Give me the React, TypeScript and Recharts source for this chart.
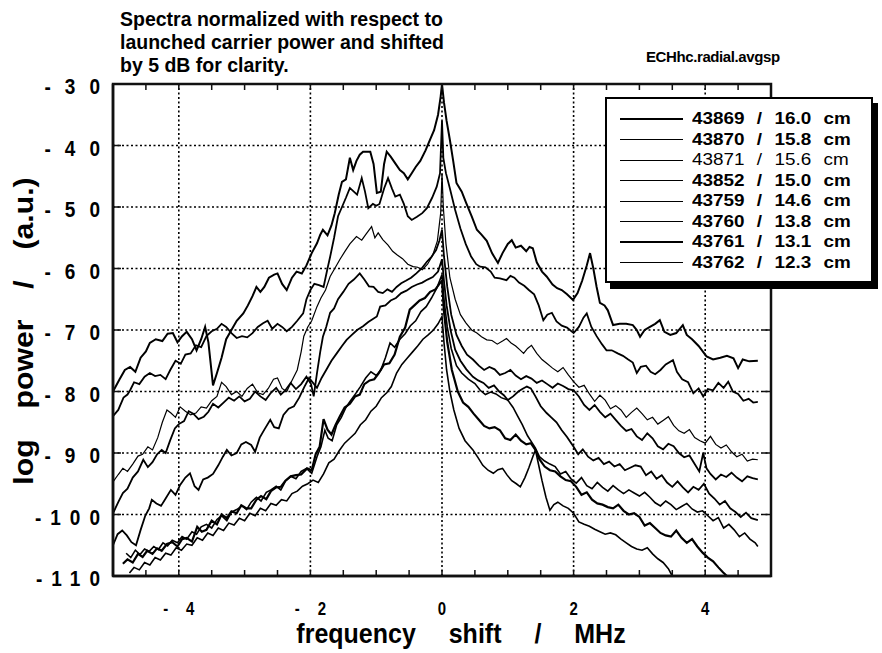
import { LineChart, Line, XAxis, YAxis, ReferenceLine } from "recharts";

const FONT = '"Liberation Sans", Arial, Helvetica, sans-serif';

type Pt = [number, number];

const shots = ["43869", "43870", "43871", "43852", "43759", "43760", "43761", "43762"];
const radii = ["16.0", "15.8", "15.6", "15.0", "14.6", "13.8", "13.1", "12.3"];

const xTicks = [-5, -4.5, -4, -3.5, -3, -2.5, -2, -1.5, -1, -0.5, 0, 0.5, 1, 1.5, 2, 2.5, 3, 3.5, 4, 4.5, 5];
const xLabels = [-4, -2, 0, 2, 4];
const yTicks = [-30, -40, -50, -60, -70, -80, -90, -100, -110];
const gridX = [-4, -2, 0, 2, 4];
const gridY = [-40, -50, -60, -70, -80, -90, -100];
const xDomain: [number, number] = [-5, 5];
const yDomain: [number, number] = [-110, -30];

const titleLines = [
  "Spectra normalized with respect to",
  "launched carrier power and shifted",
  "by 5 dB for clarity.",
];

// frequency shift (MHz), log power (dB)
const s43869: Pt[] = [
  [-5, -80], [-4.9, -78], [-4.82, -76.5], [-4.74, -76], [-4.66, -76.8], [-4.58, -74.5], [-4.5, -73.5],
  [-4.44, -72.1], [-4.35, -71.5], [-4.25, -71.8], [-4.17, -70.6], [-4.09, -70.5], [-4.02, -72], [-3.95, -71],
  [-3.88, -70.3], [-3.8, -71.5], [-3.73, -73.3], [-3.66, -71.5], [-3.6, -69.5], [-3.55, -72], [-3.48, -79],
  [-3.42, -77], [-3.35, -74.5], [-3.28, -71.5], [-3.2, -70], [-3.12, -68.5], [-3.02, -67.3], [-2.95, -66],
  [-2.88, -64.5], [-2.82, -63], [-2.76, -63.8], [-2.7, -63], [-2.63, -61.5], [-2.55, -61], [-2.5, -60.8],
  [-2.43, -62.5], [-2.36, -63.5], [-2.28, -61.5], [-2.21, -60.5], [-2.13, -60.8], [-2.06, -59.5], [-1.98, -57.5],
  [-1.9, -55.9], [-1.85, -54.5], [-1.81, -53.7], [-1.74, -54.6], [-1.68, -53], [-1.63, -51], [-1.57, -48],
  [-1.52, -45.9], [-1.46, -45.5], [-1.4, -42], [-1.35, -44], [-1.3, -42.5], [-1.25, -41.5], [-1.2, -41],
  [-1.09, -41], [-1.04, -43], [-0.99, -47.7], [-0.93, -47.5], [-0.88, -43], [-0.84, -41], [-0.78, -41.8],
  [-0.71, -42.9], [-0.64, -44], [-0.58, -44.5], [-0.52, -45.5], [-0.46, -44.5], [-0.4, -43.5], [-0.33, -42.5],
  [-0.25, -40.8], [-0.18, -39], [-0.12, -37.5], [-0.06, -35], [-0.02, -32], [0, -30], [0.03, -33], [0.07, -36],
  [0.12, -39.1], [0.17, -42.5], [0.22, -46.1], [0.3, -47.5], [0.37, -49.4], [0.45, -51.5], [0.53, -53.7],
  [0.6, -54.5], [0.68, -55.5], [0.76, -57.5], [0.85, -59.1], [0.92, -57.5], [1, -56], [1.06, -55.4],
  [1.12, -56.6], [1.2, -56.3], [1.28, -57.2], [1.33, -56.5], [1.38, -56.7], [1.44, -59], [1.52, -60.5],
  [1.59, -61.3], [1.68, -62.6], [1.75, -63.2], [1.82, -63.5], [1.9, -64.2], [1.99, -65.1], [2.06, -64],
  [2.13, -62], [2.2, -59.5], [2.25, -57.5], [2.3, -60], [2.35, -63], [2.4, -65.6], [2.47, -66], [2.52, -66.8],
  [2.6, -69.2], [2.7, -69], [2.8, -69], [2.9, -69.2], [2.96, -70], [3.01, -71.1], [3.08, -70], [3.16, -69.5],
  [3.24, -69], [3.31, -68.4], [3.38, -70.3], [3.47, -70.8], [3.56, -70.5], [3.66, -69.2], [3.72, -70.8],
  [3.8, -71.5], [3.9, -72.6], [4.02, -74.3], [4.12, -74.8], [4.23, -74.5], [4.33, -74.2], [4.43, -74.6],
  [4.5, -76.2], [4.57, -74.8], [4.67, -75.1], [4.8, -75],
];

const s43870: Pt[] = [
  [-5, -84], [-4.92, -83], [-4.84, -81], [-4.78, -80.5], [-4.74, -79.8], [-4.68, -78.5], [-4.6, -78.8],
  [-4.52, -77.6], [-4.44, -77], [-4.36, -77.5], [-4.28, -77.3], [-4.2, -78], [-4.13, -76.5], [-4.05, -75],
  [-3.97, -75.5], [-3.9, -74], [-3.82, -73.8], [-3.74, -72.5], [-3.66, -72.8], [-3.58, -71], [-3.5, -70.2],
  [-3.42, -69.8], [-3.35, -69], [-3.28, -69.5], [-3.2, -70.5], [-3.12, -71.3], [-3.04, -71], [-2.96, -71.2],
  [-2.88, -70.5], [-2.8, -69.5], [-2.72, -68.9], [-2.65, -68.5], [-2.58, -69.8], [-2.5, -69], [-2.43, -69.5],
  [-2.36, -70.2], [-2.28, -69.5], [-2.2, -68.5], [-2.11, -67.3], [-2.06, -65], [-2, -63.5], [-1.94, -62.5],
  [-1.87, -62.7], [-1.8, -63], [-1.74, -60], [-1.7, -58.1], [-1.64, -55], [-1.58, -51.5], [-1.52, -50],
  [-1.46, -48.5], [-1.4, -46.9], [-1.34, -47.5], [-1.29, -48], [-1.22, -45.3], [-1.17, -47.5], [-1.12, -50.2],
  [-1.05, -49.5], [-1, -49.8], [-0.95, -49.5], [-0.88, -47], [-0.82, -45.3], [-0.76, -47], [-0.71, -48.3],
  [-0.64, -48], [-0.58, -49.5], [-0.52, -51.5], [-0.46, -52.1], [-0.38, -51.6], [-0.3, -51], [-0.23, -50.2],
  [-0.15, -48.5], [-0.08, -46.7], [-0.03, -44.5], [0, -36], [0.02, -42], [0.06, -44.5], [0.12, -47],
  [0.2, -50.5], [0.28, -53.5], [0.36, -56], [0.44, -58], [0.52, -59.3], [0.58, -59.7], [0.66, -59.8],
  [0.74, -60.5], [0.8, -61.5], [0.88, -61.6], [0.98, -61.9], [1.04, -61.2], [1.1, -61.5], [1.17, -62.3],
  [1.25, -62.8], [1.32, -63.5], [1.4, -64.2], [1.47, -66], [1.54, -68.4], [1.6, -67.5], [1.67, -67.2],
  [1.74, -68.6], [1.82, -69.3], [1.9, -69.6], [2, -70.5], [2.08, -69.5], [2.15, -68], [2.2, -67.3],
  [2.27, -69.5], [2.35, -71], [2.43, -72.3], [2.5, -73.3], [2.58, -73.3], [2.67, -73.8], [2.75, -74.2],
  [2.83, -74.8], [2.9, -75.3], [2.96, -77], [3.02, -76], [3.1, -75.8], [3.17, -76.8], [3.24, -77.2],
  [3.32, -76.5], [3.4, -75.6], [3.51, -74.9], [3.57, -76.8], [3.65, -78], [3.74, -78.5], [3.82, -80.3],
  [3.9, -79.5], [3.97, -80.8], [4.04, -79.6], [4.12, -79.8], [4.2, -78.6], [4.28, -79.4], [4.35, -78.4],
  [4.42, -80], [4.5, -80.4], [4.58, -81.5], [4.66, -81.2], [4.73, -81.8], [4.8, -81.7],
];

const s43871: Pt[] = [
  [-5, -94.7], [-4.92, -93.5], [-4.85, -92.5], [-4.78, -93], [-4.7, -91.8], [-4.62, -90.5], [-4.55, -90.2],
  [-4.47, -89], [-4.4, -89.5], [-4.32, -87.5], [-4.25, -85], [-4.18, -83], [-4.12, -83.5], [-4.05, -84.2],
  [-3.98, -82.5], [-3.9, -83.2], [-3.82, -83.8], [-3.74, -83.5], [-3.66, -82.5], [-3.58, -82.7], [-3.5, -81.5],
  [-3.42, -80.8], [-3.35, -78.5], [-3.28, -79.2], [-3.2, -80.5], [-3.12, -80], [-3.04, -80.8], [-2.96, -79.5],
  [-2.88, -78.8], [-2.8, -80.2], [-2.72, -80.5], [-2.64, -79.5], [-2.56, -78], [-2.5, -77.8], [-2.43, -79.5],
  [-2.36, -80], [-2.28, -78.2], [-2.2, -76.5], [-2.14, -73.5], [-2.1, -71], [-2.04, -69.5], [-1.98, -68.5],
  [-1.9, -66.2], [-1.84, -64.8], [-1.77, -63.5], [-1.7, -61.3], [-1.63, -60], [-1.55, -58.5], [-1.48, -57.3],
  [-1.4, -56], [-1.3, -54.8], [-1.22, -55.4], [-1.16, -54.5], [-1.07, -53.2], [-1.02, -55], [-0.97, -54.2],
  [-0.9, -55.3], [-0.82, -56.2], [-0.75, -57.2], [-0.68, -57.8], [-0.6, -58.4], [-0.52, -59.3], [-0.44, -59.7],
  [-0.37, -59.8], [-0.3, -60.2], [-0.22, -59.3], [-0.14, -57.8], [-0.07, -55.5], [-0.02, -51], [0, -44.5],
  [0.02, -50], [0.06, -56], [0.12, -61.5], [0.2, -65], [0.28, -67.5], [0.36, -68.8], [0.45, -70], [0.53, -70.5],
  [0.6, -71.1], [0.68, -71.6], [0.76, -71.7], [0.84, -72.3], [0.92, -71.8], [0.98, -71.4], [1.05, -72.1],
  [1.12, -72.6], [1.18, -73.2], [1.24, -73.8], [1.3, -73], [1.36, -72.5], [1.44, -73.8], [1.52, -74.8],
  [1.6, -75.5], [1.68, -76.2], [1.76, -76.8], [1.84, -76.1], [1.92, -77.3], [2, -78.4], [2.08, -79.3],
  [2.16, -79], [2.24, -80.4], [2.32, -81.6], [2.4, -80.6], [2.48, -81.4], [2.56, -82.8], [2.64, -82.3],
  [2.72, -83], [2.8, -84.2], [2.88, -83.4], [2.96, -82.7], [3.04, -83.6], [3.12, -84.6], [3.2, -84.2],
  [3.28, -85.3], [3.36, -84.7], [3.44, -84.1], [3.52, -85.5], [3.6, -86.4], [3.68, -86.8], [3.76, -86.2],
  [3.84, -87.5], [3.92, -88], [4, -88.4], [4.08, -87.3], [4.16, -88.6], [4.24, -89.2], [4.32, -88.7],
  [4.4, -89.8], [4.48, -90.6], [4.56, -90.2], [4.64, -91.3], [4.72, -91], [4.8, -91.1],
];

const s43852: Pt[] = [
  [-5, -99.8], [-4.92, -98], [-4.85, -96.5], [-4.78, -95.8], [-4.7, -94], [-4.62, -93], [-4.54, -91.1],
  [-4.47, -92.3], [-4.4, -91.5], [-4.33, -90.2], [-4.26, -89.5], [-4.2, -90], [-4.13, -87.9], [-4.06, -86],
  [-4, -85.3], [-3.92, -84.8], [-3.85, -83.2], [-3.78, -83.6], [-3.7, -84.5], [-3.62, -84.1], [-3.55, -83.3],
  [-3.48, -82], [-3.4, -82.6], [-3.32, -81.8], [-3.24, -81], [-3.16, -81.5], [-3.08, -80.8], [-3, -81.6],
  [-2.92, -81.2], [-2.84, -80], [-2.76, -80.8], [-2.68, -81.4], [-2.6, -80.2], [-2.52, -79.4], [-2.45, -80.5],
  [-2.38, -79.8], [-2.3, -78.6], [-2.22, -79.6], [-2.14, -78.8], [-2.06, -77.6], [-1.99, -78.8], [-1.95, -80.8],
  [-1.9, -77], [-1.85, -73.5], [-1.81, -71.1], [-1.76, -69.5], [-1.7, -67.2], [-1.64, -66.5], [-1.58, -65],
  [-1.5, -63.8], [-1.42, -62.5], [-1.34, -61.8], [-1.25, -60.8], [-1.18, -61.8], [-1.11, -62.9], [-1.04, -63],
  [-0.97, -63.8], [-0.9, -64], [-0.83, -63.4], [-0.76, -63.8], [-0.69, -63], [-0.62, -62.4], [-0.55, -62],
  [-0.47, -61.5], [-0.39, -60.8], [-0.31, -60], [-0.23, -58.9], [-0.16, -58.1], [-0.09, -57], [-0.04, -55.5],
  [0, -53.7], [0.03, -58], [0.08, -63], [0.14, -67.5], [0.22, -70.8], [0.3, -72.6], [0.38, -74], [0.47, -74.8],
  [0.56, -75.8], [0.64, -76.5], [0.72, -76], [0.8, -76.4], [0.88, -77.3], [0.96, -77], [1.04, -76.5],
  [1.12, -77.4], [1.2, -78], [1.28, -77.5], [1.36, -77.9], [1.44, -78.6], [1.52, -78.2], [1.6, -78.8],
  [1.68, -79.4], [1.76, -78.7], [1.84, -79.1], [1.92, -79.6], [2, -79.8], [2.08, -80.8], [2.16, -82.2],
  [2.24, -83], [2.32, -82.2], [2.4, -83.3], [2.48, -84.2], [2.56, -83.6], [2.64, -84.6], [2.72, -85.6],
  [2.8, -86.4], [2.88, -86.1], [2.96, -87.3], [3.04, -87.9], [3.12, -86.8], [3.2, -87.6], [3.28, -88.9],
  [3.36, -89.4], [3.44, -88.5], [3.52, -88.9], [3.6, -90], [3.68, -90.7], [3.76, -90.4], [3.84, -91.8],
  [3.91, -93], [3.97, -90], [4.02, -92.5], [4.08, -93.4], [4.16, -94.3], [4.24, -93.5], [4.32, -93.9],
  [4.4, -93.2], [4.48, -94], [4.56, -94.6], [4.64, -93.8], [4.72, -94.1], [4.8, -94.3],
];

const s43759: Pt[] = [
  [-5, -105], [-4.93, -103.2], [-4.86, -102.6], [-4.79, -103.4], [-4.72, -104.5], [-4.65, -105], [-4.58, -102.5],
  [-4.51, -100.2], [-4.45, -99], [-4.41, -97.6], [-4.34, -98.2], [-4.27, -98.6], [-4.2, -97.4], [-4.12, -96],
  [-4.05, -96.8], [-3.98, -95.2], [-3.9, -94], [-3.83, -93.3], [-3.76, -95.4], [-3.7, -96], [-3.63, -94.3],
  [-3.56, -94], [-3.48, -93.4], [-3.4, -92], [-3.33, -90.6], [-3.27, -89.5], [-3.2, -90.4], [-3.12, -90],
  [-3.05, -88.6], [-2.98, -88.2], [-2.9, -88.7], [-2.84, -89.8], [-2.77, -87.5], [-2.7, -86.2], [-2.61, -84.6],
  [-2.55, -85.8], [-2.48, -86], [-2.41, -83.8], [-2.33, -82.8], [-2.25, -82.4], [-2.17, -81], [-2.09, -79.2],
  [-2.02, -77.8], [-1.96, -78.6], [-1.9, -79.4], [-1.83, -77.8], [-1.76, -76.5], [-1.68, -75], [-1.6, -73.8],
  [-1.52, -72.6], [-1.45, -71.6], [-1.37, -70.8], [-1.29, -70], [-1.2, -69.4], [-1.12, -68.7], [-1.05, -68.2],
  [-0.99, -67.8], [-0.94, -66.2], [-0.86, -66], [-0.78, -65.2], [-0.7, -64.8], [-0.62, -64], [-0.54, -63.6],
  [-0.46, -63], [-0.38, -62.6], [-0.3, -62.3], [-0.22, -61.8], [-0.14, -61.4], [-0.06, -60.5], [0, -58.5],
  [0.03, -62], [0.07, -66], [0.13, -70], [0.2, -73.2], [0.28, -75], [0.37, -76.4], [0.47, -77.6], [0.55, -78.2],
  [0.63, -78.6], [0.71, -79.4], [0.79, -79], [0.87, -80], [0.94, -80.6], [1, -81.4], [1.08, -80.8], [1.16, -80],
  [1.22, -79.6], [1.29, -79.2], [1.35, -79.5], [1.42, -80.8], [1.5, -82.4], [1.59, -83.5], [1.66, -84.2],
  [1.74, -85], [1.82, -86.3], [1.9, -87.4], [2, -89], [2.07, -90.2], [2.14, -89.4], [2.22, -90.6], [2.3, -91.2],
  [2.38, -90.8], [2.46, -91.8], [2.54, -91.4], [2.62, -92.2], [2.7, -91.8], [2.78, -92.8], [2.86, -92.4],
  [2.94, -92], [3.02, -92.2], [3.1, -93.6], [3.18, -93], [3.26, -94.2], [3.34, -93.6], [3.42, -94.8],
  [3.5, -95.5], [3.58, -94.6], [3.66, -95.6], [3.74, -96.4], [3.82, -95.5], [3.9, -96], [3.98, -95],
  [4.06, -96.6], [4.14, -97.4], [4.22, -98.4], [4.3, -97.8], [4.38, -99], [4.46, -99.6], [4.54, -100.4],
  [4.62, -99.7], [4.7, -100.6], [4.8, -100.9],
];

const s43760: Pt[] = [
  [-4.8, -106.3], [-4.73, -107], [-4.66, -105.8], [-4.59, -106.5], [-4.52, -105.6], [-4.45, -106], [-4.38, -105.2],
  [-4.31, -105.7], [-4.24, -104.6], [-4.17, -105.1], [-4.1, -104.2], [-4.02, -104.6], [-3.95, -103.6], [-3.88, -104],
  [-3.8, -102.8], [-3.73, -103.2], [-3.66, -102], [-3.58, -101.6], [-3.5, -102.2], [-3.42, -100.8], [-3.35, -100.2],
  [-3.27, -101], [-3.2, -99.6], [-3.12, -99.2], [-3.04, -98.6], [-2.97, -99.2], [-2.9, -98], [-2.82, -97.2],
  [-2.75, -97.8], [-2.67, -96.4], [-2.6, -96], [-2.52, -95.4], [-2.45, -96], [-2.38, -94.6], [-2.3, -93.8],
  [-2.22, -94.2], [-2.14, -93], [-2.06, -92.5], [-1.98, -93.3], [-1.9, -90.6], [-1.84, -89], [-1.78, -86.3],
  [-1.73, -87.6], [-1.67, -88], [-1.6, -85.4], [-1.53, -84.2], [-1.46, -82.6], [-1.39, -81.5], [-1.31, -80.3],
  [-1.24, -79.2], [-1.16, -77.8], [-1.08, -76.8], [-1, -77.4], [-0.93, -76.5], [-0.86, -74.5], [-0.79, -72.1],
  [-0.72, -72.8], [-0.64, -71.5], [-0.56, -70.6], [-0.48, -69.3], [-0.4, -68.5], [-0.32, -67], [-0.24, -66.2],
  [-0.16, -64.8], [-0.08, -63.2], [0, -61], [0.03, -65], [0.08, -69.5], [0.14, -73], [0.22, -75.8], [0.3, -77],
  [0.4, -78], [0.5, -78.7], [0.58, -79.8], [0.66, -80.5], [0.74, -80.1], [0.82, -80.4], [0.9, -81], [1, -81.4],
  [1.08, -82.6], [1.15, -84], [1.22, -85.4], [1.3, -87.2], [1.36, -88.2], [1.42, -89.2], [1.48, -90.6],
  [1.56, -91.3], [1.64, -91.8], [1.72, -92.2], [1.8, -93.4], [1.88, -93], [1.96, -94.2], [2.04, -94.9],
  [2.12, -94], [2.2, -95.3], [2.28, -95.8], [2.36, -94.8], [2.44, -95.6], [2.52, -96.2], [2.6, -95.3],
  [2.68, -96], [2.76, -96.6], [2.84, -96], [2.92, -96.5], [3, -97], [3.08, -96.4], [3.16, -97.2], [3.24, -98.1],
  [3.32, -98.6], [3.4, -97.8], [3.48, -98.4], [3.56, -99.2], [3.64, -98.7], [3.72, -98.2], [3.8, -99.1],
  [3.88, -99.6], [3.96, -99.4], [4.04, -100.2], [4.12, -101], [4.2, -100.5], [4.28, -102.2], [4.36, -101.6],
  [4.44, -102.5], [4.52, -103.6], [4.6, -103], [4.68, -104], [4.76, -104.6], [4.8, -105.2],
];

const s43761: Pt[] = [
  [-4.85, -108], [-4.78, -107.3], [-4.7, -107.8], [-4.62, -106.4], [-4.55, -106.9], [-4.48, -105.9], [-4.4, -106.4],
  [-4.33, -105.5], [-4.26, -105.9], [-4.18, -104.8], [-4.1, -104.5], [-4.02, -105.2], [-3.95, -104], [-3.88, -103.8],
  [-3.8, -104.4], [-3.72, -102], [-3.65, -102.8], [-3.58, -102.5], [-3.5, -101], [-3.42, -101.6], [-3.35, -100],
  [-3.27, -100.6], [-3.2, -99.5], [-3.12, -99.8], [-3.05, -98.5], [-2.97, -99], [-2.9, -99], [-2.82, -97.6],
  [-2.75, -97], [-2.67, -97.5], [-2.6, -96.2], [-2.52, -95.6], [-2.45, -95.5], [-2.38, -94.5], [-2.3, -93.8],
  [-2.22, -93.6], [-2.14, -93.5], [-2.05, -92.5], [-1.98, -92.8], [-1.92, -90.2], [-1.86, -89], [-1.8, -84.5],
  [-1.74, -86.2], [-1.68, -87], [-1.62, -85.5], [-1.55, -84], [-1.48, -82.6], [-1.4, -82], [-1.32, -80.8],
  [-1.25, -80.5], [-1.18, -78.8], [-1.1, -78.2], [-1.03, -78], [-0.96, -77], [-0.88, -75.6], [-0.8, -75.4],
  [-0.72, -74], [-0.64, -71.1], [-0.56, -69.6], [-0.49, -66.7], [-0.42, -66], [-0.34, -65.2], [-0.26, -64.8],
  [-0.18, -63.8], [-0.1, -63.4], [-0.04, -62.5], [0, -62], [0.03, -67], [0.08, -72], [0.15, -76.5], [0.24, -80],
  [0.32, -81.8], [0.4, -82.5], [0.48, -83.6], [0.56, -84.6], [0.64, -85.6], [0.72, -86], [0.8, -85.8],
  [0.88, -86.3], [0.96, -87.6], [1.04, -87.9], [1.12, -87], [1.2, -88], [1.28, -88.6], [1.35, -88.4],
  [1.42, -89.5], [1.48, -91], [1.56, -92.2], [1.64, -92.8], [1.72, -93], [1.8, -93.8], [1.88, -94.4],
  [1.96, -94.6], [2.04, -95.5], [2.12, -96.8], [2.2, -96.4], [2.28, -97.6], [2.36, -98.2], [2.44, -98.4],
  [2.52, -98.8], [2.6, -99], [2.68, -98.4], [2.76, -99.4], [2.84, -100], [2.92, -99.8], [3, -100.4],
  [3.08, -101.8], [3.16, -101.4], [3.24, -102.2], [3.32, -103], [3.4, -103.4], [3.48, -103.6], [3.56, -102.6],
  [3.64, -103.8], [3.72, -104.6], [3.8, -104], [3.88, -105.2], [3.96, -106.2], [4.04, -107], [4.12, -107.6],
  [4.2, -108.6], [4.27, -109.4], [4.33, -110],
];

const s43762: Pt[] = [
  [-4.75, -109.5], [-4.68, -108.6], [-4.6, -109], [-4.52, -107.8], [-4.44, -108.2], [-4.36, -107], [-4.28, -107.4],
  [-4.2, -106.3], [-4.12, -106.6], [-4.04, -105.4], [-3.96, -105.8], [-3.88, -104.8], [-3.8, -105], [-3.72, -103.8],
  [-3.64, -104.2], [-3.56, -103], [-3.48, -103.4], [-3.4, -102.2], [-3.32, -102.6], [-3.24, -101.4], [-3.16, -101.7],
  [-3.08, -100.6], [-3, -101], [-2.92, -99.8], [-2.84, -100.2], [-2.76, -99], [-2.68, -99.4], [-2.6, -98.2],
  [-2.52, -98.5], [-2.44, -97.6], [-2.36, -97.8], [-2.28, -96.6], [-2.2, -96.2], [-2.12, -95.4], [-2.04, -95],
  [-1.96, -94.4], [-1.88, -94.8], [-1.8, -93.4], [-1.72, -91.6], [-1.64, -91], [-1.56, -89.6], [-1.48, -88.4],
  [-1.4, -87.6], [-1.32, -86.8], [-1.24, -85.4], [-1.16, -84.6], [-1.08, -83.2], [-1, -82.4], [-0.92, -81],
  [-0.84, -80.2], [-0.77, -79.2], [-0.69, -77], [-0.61, -75.6], [-0.53, -74.6], [-0.45, -73.6], [-0.37, -72.6],
  [-0.29, -71.5], [-0.21, -70.8], [-0.13, -70], [-0.06, -69], [0, -67.8], [0.03, -72], [0.07, -76.5],
  [0.12, -80], [0.18, -83], [0.26, -86], [0.35, -88], [0.47, -89.5], [0.55, -90.8], [0.62, -92], [0.7, -92.8],
  [0.78, -93.3], [0.85, -92.7], [0.92, -92.5], [0.99, -93.6], [1.06, -94.5], [1.13, -95], [1.19, -95.5],
  [1.26, -94], [1.32, -92.4], [1.38, -90.6], [1.42, -89.5], [1.46, -91.5], [1.52, -94.5], [1.58, -97.2],
  [1.64, -99.3], [1.7, -98.4], [1.76, -98], [1.84, -98.6], [1.92, -99], [2, -99.8], [2.08, -101.2],
  [2.16, -101.6], [2.24, -101.9], [2.32, -102.4], [2.4, -102.8], [2.48, -103.2], [2.56, -103], [2.64, -103.3],
  [2.72, -104], [2.8, -104.6], [2.88, -105.2], [2.96, -105.6], [3.04, -105.8], [3.12, -105.4], [3.2, -106.4],
  [3.28, -107.2], [3.36, -107.8], [3.44, -108.8], [3.5, -110],
];

const seriesPoints = [s43869, s43870, s43871, s43852, s43759, s43760, s43761, s43762];
const lineWidths = [2, 1.8, 1.2, 1.8, 1.8, 1.6, 2.2, 1.6];

const series = shots.map((shot, i) => ({
  name: `${shot} / ${radii[i]} cm`,
  data: seriesPoints[i].map(([f, p]) => ({ f, p })),
}));

// plot box of the chart, used for the chart margins and for the frame
const W = 882;
const H = 653;
const PLOT = { left: 113, top: 84, width: 658, height: 492 };
const Y_AXIS_W = 60;
const X_AXIS_H = 30;
const FRAME = 2.5;
const TICK = 1.5;
const INK = "#111";

const px = (v: number) => PLOT.left + ((v - xDomain[0]) / (xDomain[1] - xDomain[0])) * PLOT.width;
const py = (v: number) => PLOT.top + ((yDomain[1] - v) / (yDomain[1] - yDomain[0])) * PLOT.height;

function XTick(props: any) {
  const { x, y, payload } = props;
  const v = payload.value;
  if (!xLabels.includes(v)) return <g />;
  const neg = v < 0;
  return (
    <text
      transform={`translate(${x},${y + 39}) scale(1,1.2)`}
      textAnchor="middle"
      fontFamily={FONT}
      fontWeight="bold"
      fontSize={15}
      fill="#000"
    >
      {neg ? `-\u2003\u2009${Math.abs(v)}` : String(v)}
    </text>
  );
}

function YTick(props: any) {
  const { x, y, payload } = props;
  const s = String(payload.value);
  const sp = s.length > 3 ? 9 : 14;
  return (
    <text
      transform={`translate(${x - 13 + sp},${y + 10}) scale(1,1.15)`}
      textAnchor="end"
      fontFamily={FONT}
      fontWeight="bold"
      fontSize={19}
      letterSpacing={sp}
      fill="#000"
    >
      {s}
    </text>
  );
}

function LegendBox() {
  return (
    <div
      style={{
        position: "absolute",
        left: 605,
        top: 97,
        boxSizing: "border-box",
        width: 268,
        height: 186,
        border: "2px solid #000",
        boxShadow: "5px 6px 0 #000",
        background: "#fff",
        fontFamily: FONT,
      }}
    >
      {series.map((s, i) => (
        <div
          key={s.name}
          style={{
            position: "absolute",
            left: 13,
            top: 10 + 20.5 * i,
            height: 20,
            display: "flex",
            alignItems: "center",
            whiteSpace: "nowrap",
          }}
        >
          <div style={{ width: 63, borderTop: `${lineWidths[i]}px solid #000` }} />
          <span
            style={{
              display: "inline-block",
              marginLeft: 9,
              fontSize: 16,
              lineHeight: "20px",
              fontWeight: i === 2 ? "normal" : "bold",
              wordSpacing: 6,
              transform: "scale(1.18,1)",
              transformOrigin: "left center",
              color: "#000",
            }}
          >
            {s.name}
          </span>
        </div>
      ))}
    </div>
  );
}

// box round the plot with inward ticks, as in the original
function Frame() {
  const bottom = PLOT.top + PLOT.height;
  const right = PLOT.left + PLOT.width;
  const box = `M${PLOT.left},${PLOT.top} L${right},${PLOT.top} L${right},${bottom} L${PLOT.left},${bottom} Z`;
  const ticks = [
    ...xTicks.map((v) => `M${px(v)},${bottom} L${px(v)},${bottom - 6} M${px(v)},${PLOT.top} L${px(v)},${PLOT.top + 6}`),
    ...yTicks.map((v) => `M${PLOT.left},${py(v)} L${PLOT.left + 8},${py(v)} M${right},${py(v)} L${right - 8},${py(v)}`),
  ].join(" ");
  return (
    <g>
      <path d={box} fill="none" stroke={INK} strokeWidth={FRAME} />
      <path d={ticks} fill="none" stroke={INK} strokeWidth={TICK} />
    </g>
  );
}

export default function App() {
  return (
    <div
      style={{
        position: "absolute",
        left: 0,
        top: 0,
        width: W,
        height: H,
        background: "#fff",
      }}
    >
      <LineChart
        width={W}
        height={H}
        margin={{
          top: PLOT.top,
          right: W - PLOT.left - PLOT.width,
          bottom: H - PLOT.top - PLOT.height - X_AXIS_H,
          left: PLOT.left - Y_AXIS_W,
        }}
      >
        <XAxis
          dataKey="f"
          type="number"
          domain={xDomain}
          ticks={xTicks}
          interval={0}
          height={X_AXIS_H}
          tickSize={0}
          tickMargin={0}
          tickLine={false}
          tick={(p: any) => <XTick {...p} />}
          stroke={INK}
          strokeWidth={FRAME}
        />
        <YAxis
          type="number"
          domain={yDomain}
          ticks={yTicks}
          interval={0}
          width={Y_AXIS_W}
          tickSize={0}
          tickMargin={0}
          tickLine={false}
          tick={(p: any) => <YTick {...p} />}
          stroke={INK}
          strokeWidth={FRAME}
        />
        {gridX.map((v) => (
          <ReferenceLine key={`gx${v}`} x={v} stroke="#000" strokeWidth={1.6} strokeDasharray="2 2.5" />
        ))}
        {gridY.map((v) => (
          <ReferenceLine key={`gy${v}`} y={v} stroke="#000" strokeWidth={1.6} strokeDasharray="2 2.5" />
        ))}
        {series.map((s, i) => (
          <Line
            key={s.name}
            data={s.data}
            dataKey="p"
            name={s.name}
            type="linear"
            stroke="#000"
            strokeWidth={lineWidths[i]}
            dot={false}
            activeDot={false}
            isAnimationActive={false}
          />
        ))}
      </LineChart>
      <svg
        width={W}
        height={H}
        style={{ position: "absolute", left: 0, top: 0, pointerEvents: "none" }}
      >
        <Frame />
        <g fontFamily={FONT} fontWeight="bold" fill="#000">
          {titleLines.map((t, i) => (
            <text key={t} x={120} y={26 + 23.2 * i} fontSize={19.5}>
              {t}
            </text>
          ))}
          <text x={646} y={62} fontSize={15} letterSpacing={-0.4}>
            ECHhc.radial.avgsp
          </text>
          <text
            transform="translate(461,643) scale(1,1.12)"
            textAnchor="middle"
            fontSize={25}
            wordSpacing={26}
          >
            frequency shift / MHz
          </text>
          <text
            transform="translate(33,331) rotate(-90) scale(1.12,1)"
            textAnchor="middle"
            fontSize={27}
            wordSpacing={20}
          >
            log power / (a.u.)
          </text>
        </g>
      </svg>
      <LegendBox />
    </div>
  );
}
